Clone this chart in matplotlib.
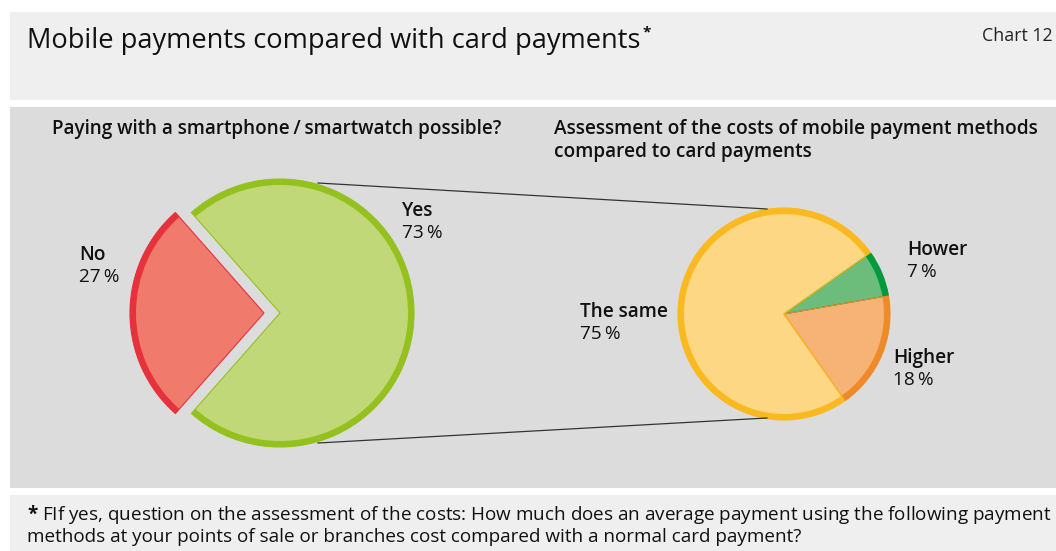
import matplotlib
matplotlib.use("Agg")
import matplotlib.pyplot as plt
from matplotlib.patches import Rectangle

plt.rcParams['font.family'] = ['Open Sans', 'DejaVu Sans']
plt.rcParams['mathtext.fontset'] = 'custom'
plt.rcParams['mathtext.rm'] = 'Open Sans'
plt.rcParams['mathtext.bf'] = 'Open Sans:bold'
plt.rcParams['mathtext.it'] = 'Open Sans:italic'

# Left pie: is paying with a smartphone / smartwatch possible?
left_labels = ["No", "Yes"]
left_values = [27, 73]
left_fill = ["#f07a6c", "#c0d878"]
left_edge = ["#e5323c", "#95c11f"]

# Right pie: cost assessment of mobile payments vs card payments
right_labels = ["Hower", "Higher", "The same"]
right_values = [7, 18, 75]
right_fill = ["#6cbc7b", "#f6b375", "#fdd784"]
right_edge = ["#009a3e", "#ef8a28", "#fab921"]

W, H = 1056, 551
fig = plt.figure(figsize=(W / 100, H / 100), dpi=100)
fig.patch.set_facecolor("white")
ax = fig.add_axes([0, 0, 1, 1])


def py(y):
    """Convert a top-down pixel row into the axes' bottom-up coordinate."""
    return H - y


# Background panels
ax.add_patch(Rectangle((10, py(100)), W - 10, 88, facecolor="#efefef", edgecolor="none", zorder=0))
ax.add_patch(Rectangle((10, py(488)), W - 10, 381, facecolor="#dcdcdc", edgecolor="none", zorder=0))
ax.add_patch(Rectangle((10, py(551)), W - 10, 56, facecolor="#efefef", edgecolor="none", zorder=0))

# Left pie ("No" slice pulled out to the left)
lc = (280, py(313))
lr = 134
ring = 6
l_explode = [16, 0]
ax.pie(left_values, center=lc, radius=lr, startangle=131.4, counterclock=True,
       explode=l_explode, colors=left_fill,
       wedgeprops=dict(linewidth=0), frame=True)
wedges, _ = ax.pie(left_values, center=lc, radius=lr, startangle=131.4, counterclock=True,
                   explode=l_explode, colors=["none", "none"],
                   wedgeprops=dict(linewidth=0.8), frame=True)
for w, c in zip(wedges, left_edge):
    w.set_edgecolor(c)
ax.pie(left_values, center=lc, radius=lr, startangle=131.4, counterclock=True,
       explode=l_explode, colors=left_edge,
       wedgeprops=dict(width=ring, linewidth=0), frame=True)

# Right pie
rc = (784, py(314))
rr = 106
ax.pie(right_values, center=rc, radius=rr, startangle=35.2, counterclock=False,
       colors=right_fill, wedgeprops=dict(linewidth=0), frame=True)
wedges, _ = ax.pie(right_values, center=rc, radius=rr, startangle=35.2, counterclock=False,
                   colors=["none"] * 3, wedgeprops=dict(linewidth=0.8), frame=True)
for w, c in zip(wedges, right_edge):
    w.set_edgecolor(c)
ax.pie(right_values, center=rc, radius=rr, startangle=35.2, counterclock=False,
       colors=right_edge, wedgeprops=dict(width=ring, linewidth=0), frame=True)

# Connector lines between the two pies
ax.plot([318, 767], [py(183), py(209)], color="#333333", lw=0.9, zorder=1)
ax.plot([318, 767], [py(443), py(418)], color="#333333", lw=0.9, zorder=1)

ax.set_xlim(0, W)
ax.set_ylim(0, H)
ax.set_aspect("equal")
ax.axis("off")

txt = "#111111"
# Header
ax.text(27, py(41), "Mobile payments compared with card payments", fontsize=19.6,
        color=txt, va="center", ha="left")
ax.text(643, py(32), "*", fontsize=11, fontweight="bold", color=txt, va="center", ha="left")
ax.text(1053, py(36), "Chart 12", fontsize=12.8, color="#222222", va="center", ha="right")

# Panel headings
ax.text(52, py(129), "Paying with a smartphone\u2009/\u2009smartwatch possible?", fontsize=13.6,
        fontweight="semibold", color=txt, va="center", ha="left")
ax.text(554, py(129), "Assessment of the costs of mobile payment methods", fontsize=13.7,
        fontweight="semibold", color=txt, va="center", ha="left")
ax.text(554, py(152), "compared to card payments", fontsize=13.7,
        fontweight="semibold", color=txt, va="center", ha="left")

# Slice labels
label_pos = {
    "Yes": (402, 211), "No": (79, 255),
    "The same": (580, 312), "Hower": (907, 250), "Higher": (893, 358),
}
for names, vals in ((left_labels, left_values), (right_labels, right_values)):
    for name, v in zip(names, vals):
        x, y = label_pos[name]
        ax.text(x, py(y), name, fontsize=13.7, fontweight="semibold", color=txt,
                va="center", ha="left")
        ax.text(x, py(y + 22), f"{v}\u2009%", fontsize=13.7, color=txt,
                va="center", ha="left")

# Footnote
ax.text(27, py(515),
        "$\\mathbf{*}$ FIf yes, question on the assessment of the costs: How much does an average payment using the following payment",
        fontsize=13.55, color=txt, va="center", ha="left")
ax.text(27, py(537),
        "methods at your points of sale or branches cost compared with a normal card payment?",
        fontsize=13.55, color=txt, va="center", ha="left")

fig.savefig("out.png", dpi=100, facecolor=fig.get_facecolor())
